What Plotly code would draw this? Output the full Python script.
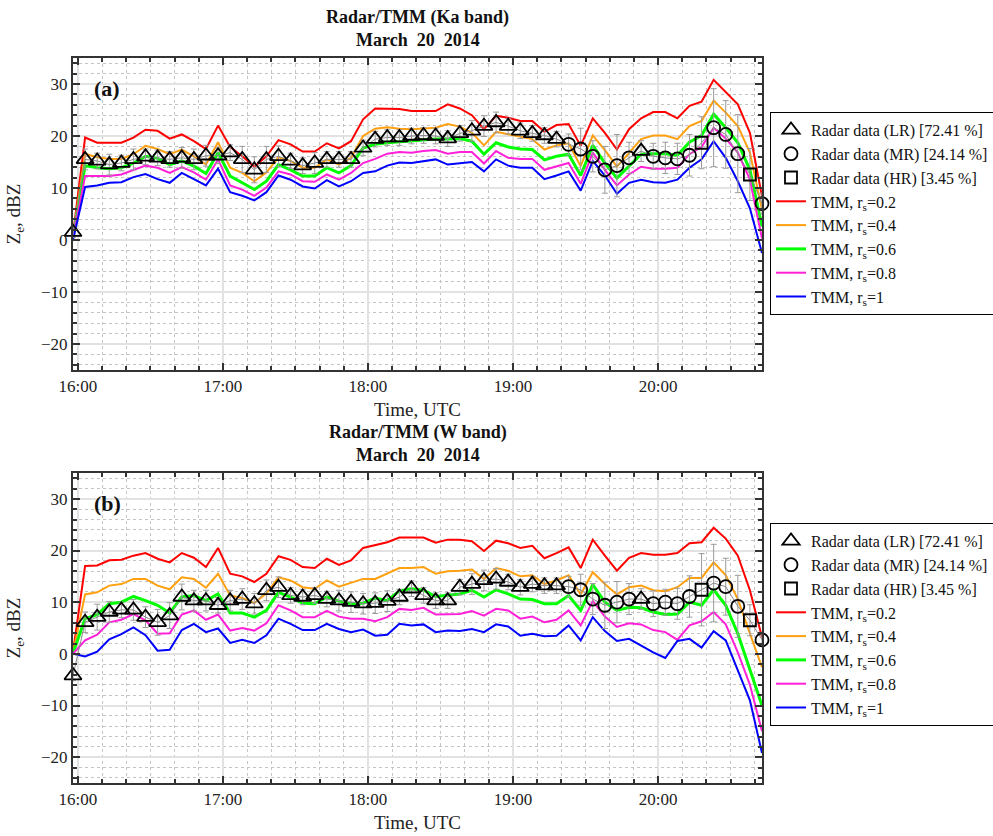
import pandas as pd
import plotly.graph_objects as go

# ---------------- data ----------------
times = pd.date_range("2014-03-20 15:58", periods=58, freq="5min")

# radar class per sample: L = LR, M = MR, H = HR
rclass = list("LLLLLLLLLLLLLLLLLLLLLLLLLLLLLLLLLLLLLLLLL" + "MMMMMMLMMMMHMMMHM")

# ---- Ka band (a) ----
ka_radar = [1.5, 15.5, 15.2, 14.5, 14.8, 15.5, 16.0, 15.8, 15.5, 15.8, 15.5, 16.2, 16.2, 16.8, 15.5, 13.5,
            15.5, 16.1, 15.2, 14.3, 14.8, 15.5, 15.5, 15.5, 17.7, 19.4, 19.7, 19.7, 20.0, 20.1, 20.0, 19.5,
            20.5, 21.0, 21.9, 22.6, 21.9, 21.0, 20.5, 20.1, 19.4, 18.4, 17.5, 16.1, 13.5, 14.3, 15.8, 17.1,
            16.1, 15.8, 15.6, 16.3, 18.7, 21.6, 20.3, 16.6, 12.6, 7.0]
ka_err = [1.0, 2.0, 1.5, 2.0, 1.5, 2.0, 1.5, 1.5, 1.5, 2.0, 2.0, 2.0, 1.5, 1.5, 2.5, 2.5, 2.5, 2.0, 1.5,
          1.5, 2.0, 1.5, 1.5, 1.5, 1.5, 1.5, 1.5, 1.5, 1.5, 1.5, 1.5, 1.5, 1.5, 2.0, 2.0, 2.0, 1.5, 1.5,
          1.5, 1.5, 1.5, 2.0, 4.0, 3.0, 4.5, 6.0, 3.0, 2.0, 2.5, 3.0, 3.0, 4.0, 5.0, 7.5, 6.5, 7.5, 5.0, 2.0]
ka_r02 = [1.0, 19.7, 18.7, 18.7, 18.7, 19.7, 21.2, 21.0, 19.5, 20.3, 19.0, 17.5, 22.0, 17.9, 16.1, 14.1,
          16.1, 19.2, 18.4, 17.0, 17.0, 18.6, 17.6, 19.0, 23.2, 25.3, 25.3, 25.2, 24.8, 24.8, 24.8, 26.1,
          25.3, 24.0, 21.3, 23.9, 23.5, 22.9, 22.9, 20.8, 22.1, 22.3, 18.1, 23.4, 20.6, 17.4, 21.3, 23.4,
          24.6, 24.6, 23.4, 25.8, 26.6, 30.8, 28.5, 26.1, 20.6, 8.4]
ka_r04 = [0.8, 16.6, 15.9, 15.6, 15.6, 16.5, 18.1, 17.5, 16.5, 17.4, 16.1, 14.5, 18.8, 13.9, 12.9, 11.3,
          13.0, 15.9, 15.2, 13.9, 13.9, 15.5, 14.5, 15.8, 20.0, 21.4, 21.7, 21.4, 21.3, 21.4, 21.6, 22.3,
          21.8, 20.6, 18.2, 20.8, 20.3, 19.9, 19.4, 17.4, 18.2, 18.6, 14.2, 20.1, 17.3, 14.1, 16.8, 19.4,
          20.1, 20.1, 19.4, 21.9, 22.9, 26.8, 24.5, 21.9, 16.8, 5.8]
ka_r06 = [0.5, 14.3, 13.9, 13.7, 13.9, 14.8, 16.1, 15.7, 14.5, 15.2, 14.2, 12.8, 16.8, 12.3, 11.0, 9.7,
          11.3, 14.5, 13.5, 12.3, 12.3, 13.9, 12.9, 14.3, 17.7, 18.4, 18.7, 18.9, 19.0, 19.2, 19.4, 19.4,
          19.5, 19.0, 16.5, 18.7, 17.9, 17.5, 17.4, 15.4, 16.1, 16.5, 12.4, 18.2, 14.8, 11.9, 14.3, 16.5,
          16.6, 16.6, 16.3, 18.8, 20.1, 24.2, 21.6, 18.7, 13.5, 2.6]
ka_r08 = [0.3, 12.3, 12.3, 12.3, 12.6, 13.5, 14.3, 13.9, 12.9, 14.0, 13.0, 11.6, 15.5, 10.5, 9.7, 8.5,
          10.1, 13.2, 12.6, 11.3, 11.2, 12.6, 11.6, 12.9, 14.8, 15.6, 16.6, 16.9, 16.8, 17.1, 17.3, 16.6,
          16.9, 16.9, 14.7, 17.1, 15.8, 15.6, 15.6, 13.5, 14.2, 14.8, 10.8, 16.8, 13.5, 10.5, 12.6, 14.1,
          13.7, 13.7, 13.9, 16.5, 17.9, 21.6, 19.5, 16.8, 11.6, 0.3]
ka_r10 = [0.0, 10.2, 10.5, 11.0, 11.1, 12.1, 12.7, 11.7, 11.0, 12.9, 11.7, 10.5, 13.7, 9.2, 8.5, 7.6,
          9.2, 12.4, 11.6, 10.3, 9.9, 11.5, 10.3, 11.3, 12.9, 13.2, 14.3, 14.9, 14.8, 15.2, 15.5, 14.5,
          14.8, 15.0, 13.2, 15.5, 14.3, 13.9, 13.9, 11.7, 12.4, 13.2, 9.5, 15.2, 12.4, 8.9, 11.0, 11.6,
          11.1, 11.0, 11.6, 13.9, 15.5, 19.0, 15.8, 11.3, 6.1, -2.5]

# ---- W band (b) ----
w_radar = [-4.2, 6.1, 7.1, 8.1, 8.5, 8.5, 7.1, 6.1, 7.4, 11.0, 10.3, 10.3, 9.4, 10.3, 10.6, 9.7,
           12.3, 12.9, 11.3, 11.0, 11.3, 10.6, 10.3, 10.0, 9.7, 9.8, 10.2, 11.0, 12.6, 11.3, 10.3, 10.3,
           12.9, 13.5, 14.2, 14.5, 13.9, 12.9, 13.5, 13.2, 13.2, 13.0, 12.4, 10.6, 9.4, 10.0, 10.6, 10.6,
           9.7, 10.0, 9.7, 11.1, 12.4, 13.7, 13.0, 9.2, 6.5, 2.7]
w_err = [1.0, 2.0, 2.5, 2.0, 1.5, 2.0, 2.0, 2.5, 2.5, 2.5, 2.0, 2.0, 1.5, 2.0, 2.0, 2.0, 2.0, 2.0, 1.5,
         1.5, 1.5, 1.5, 2.0, 2.0, 2.0, 2.0, 2.0, 1.5, 1.5, 1.5, 1.5, 1.5, 1.5, 2.0, 2.0, 2.0, 1.5, 1.5,
         1.5, 1.5, 1.5, 2.0, 3.0, 3.0, 4.5, 4.0, 3.0, 2.0, 2.5, 2.5, 3.0, 4.0, 7.0, 7.5, 5.5, 6.0, 3.0, 1.0]
w_r02 = [0.3, 17.0, 17.1, 18.1, 18.2, 19.0, 19.5, 18.4, 17.7, 19.5, 18.6, 16.8, 20.5, 15.5, 15.0, 13.9,
         15.5, 18.9, 18.2, 16.8, 16.6, 18.4, 17.2, 18.1, 20.5, 21.0, 21.6, 22.5, 22.5, 22.5, 21.5, 22.1,
         22.1, 21.8, 19.9, 21.9, 21.4, 20.5, 20.9, 18.5, 19.5, 20.6, 16.6, 22.1, 19.0, 16.1, 18.6, 19.5,
         19.2, 19.2, 19.5, 21.4, 21.6, 24.4, 22.3, 19.0, 12.3, 3.2]
w_r04 = [0.2, 11.5, 11.9, 13.2, 13.5, 14.5, 14.5, 13.2, 12.5, 14.8, 14.5, 12.8, 15.5, 11.3, 10.8, 9.8,
         11.7, 14.8, 14.2, 12.9, 12.6, 14.2, 13.0, 13.7, 14.5, 14.5, 15.5, 16.6, 16.6, 16.8, 15.5, 16.0,
         16.1, 16.3, 14.5, 16.6, 16.1, 15.0, 15.2, 13.5, 14.2, 15.2, 11.5, 15.8, 13.5, 11.5, 12.9, 13.2,
         12.3, 12.1, 12.9, 14.7, 14.7, 17.7, 15.2, 10.6, 3.9, -2.6]
w_r06 = [0.1, 6.8, 7.6, 9.7, 10.0, 11.1, 10.3, 9.4, 7.9, 11.0, 11.3, 10.3, 11.6, 7.9, 7.9, 7.1,
         8.4, 11.9, 11.0, 9.8, 9.7, 11.0, 10.2, 9.7, 9.8, 10.8, 10.3, 12.2, 12.6, 12.3, 11.1, 11.3,
         11.6, 12.3, 11.0, 12.4, 11.6, 10.6, 10.5, 9.7, 9.7, 11.3, 8.4, 13.4, 10.0, 8.4, 9.0, 8.9,
         8.1, 7.6, 7.7, 10.0, 9.4, 12.4, 9.4, 3.9, -3.2, -10.0]
w_r08 = [0.0, 2.6, 3.7, 6.1, 6.6, 7.7, 6.5, 3.9, 4.0, 7.6, 8.4, 6.6, 7.6, 4.5, 5.0, 4.5,
         5.9, 9.4, 8.4, 7.1, 7.1, 8.3, 7.2, 6.8, 6.8, 6.3, 7.1, 8.7, 8.5, 8.9, 7.6, 7.7,
         7.7, 8.3, 7.4, 8.7, 8.4, 6.8, 7.2, 6.1, 6.6, 8.4, 5.5, 10.2, 7.2, 5.2, 5.9, 5.7,
         4.6, 4.2, 2.7, 5.5, 6.3, 8.1, 5.7, 0.3, -6.0, -15.0]
w_r10 = [0.0, -0.5, 0.4, 2.8, 3.8, 5.1, 3.6, 0.6, 0.8, 4.6, 5.8, 4.2, 4.9, 2.1, 2.7, 2.1,
         3.6, 6.8, 5.8, 4.6, 4.6, 5.8, 4.8, 4.2, 4.7, 3.5, 3.7, 5.8, 5.5, 5.7, 4.2, 4.5,
         4.4, 4.8, 4.2, 5.7, 5.3, 3.5, 3.9, 3.4, 3.5, 5.5, 2.6, 7.1, 4.4, 2.5, 2.9, 1.6,
         0.3, -0.8, 2.5, 2.9, 1.2, 4.4, 2.6, -3.2, -9.0, -19.2]

legend_names = ["Radar data (LR) [72.41 %]", "Radar data (MR) [24.14 %]", "Radar data (HR) [3.45 %]"]
tmm_labels = ["TMM, r<sub>s</sub>=0.2", "TMM, r<sub>s</sub>=0.4", "TMM, r<sub>s</sub>=0.6",
              "TMM, r<sub>s</sub>=0.8", "TMM, r<sub>s</sub>=1"]
tmm_colors = ["#ff0000", "#ffa010", "#00ff00", "#ff20d8", "#0000ff"]
tmm_widths = [2, 2, 3, 2, 2]
titles = [("Radar/TMM (Ka band)", "March\u00a0\u00a020\u00a0\u00a02014"),
          ("Radar/TMM (W band)", "March\u00a0\u00a020\u00a0\u00a02014")]
panel_tags = ["(a)", "(b)"]

FONT = "Liberation Serif"
W, H = 993, 836

fig = go.Figure()

panels = [
    dict(radar=ka_radar, err=ka_err, tmm=[ka_r02, ka_r04, ka_r06, ka_r08, ka_r10], xa="x", ya="y", leg="legend"),
    dict(radar=w_radar, err=w_err, tmm=[w_r02, w_r04, w_r06, w_r08, w_r10], xa="x2", ya="y2", leg="legend2"),
]

sym = {"L": "triangle-up-open", "M": "circle-open", "H": "square-open"}
msize = {"L": 15, "M": 13, "H": 12}

for p in panels:
    for vals, lab, col, lw in zip(p["tmm"], tmm_labels, tmm_colors, tmm_widths):
        fig.add_trace(go.Scatter(x=times, y=vals, mode="lines", name=lab,
                                 line=dict(color=col, width=lw),
                                 xaxis=p["xa"], yaxis=p["ya"], legend=p["leg"], legendrank=10))
    fig.add_trace(go.Scatter(x=times, y=p["radar"], mode="lines",
                             line=dict(color="#8a8a8a", width=1),
                             error_y=dict(type="data", array=p["err"], visible=True,
                                          color="#9a9a9a", thickness=1, width=3),
                             showlegend=False, xaxis=p["xa"], yaxis=p["ya"], legend=p["leg"]))
    for c, nm in zip("LMH", legend_names):
        yv = [v if k == c else None for v, k in zip(p["radar"], rclass)]
        fig.add_trace(go.Scatter(x=times, y=yv, mode="markers", name=nm,
                                 marker=dict(symbol=sym[c], size=msize[c], color="black",
                                             line=dict(color="black", width=1.8)),
                                 cliponaxis=False,
                                 xaxis=p["xa"], yaxis=p["ya"], legend=p["leg"], legendrank=1))

x0, x1 = 73, 762
doms = [(58, 370), (473, 783)]

def xax(anchor):
    return dict(anchor=anchor, domain=[x0 / W, x1 / W], type="date", automargin=False,
                range=[times[0], times[-1]], tick0="2014-03-20 16:00", dtick=3600000,
                tickformat="%H:%M", ticks="inside", ticklen=7, tickwidth=1.5, tickcolor="#333",
                showline=True, linecolor="#333", linewidth=2, mirror="ticks",
                showgrid=True, gridcolor="#e2e2e2", gridwidth=1.5, zeroline=False,
                tickfont=dict(family=FONT, size=17, color="#222"),
                title=dict(text="Time, UTC", font=dict(family=FONT, size=19, color="#222"), standoff=7),
                minor=dict(dtick=600000, tick0="2014-03-20 16:00", ticks="inside", ticklen=4,
                           tickcolor="#333", showgrid=True, griddash="dot", gridcolor="#c4c4c4",
                           gridwidth=1))

def yax(anchor, dom):
    return dict(anchor=anchor, domain=[1 - dom[1] / H, 1 - dom[0] / H], range=[-25, 35],
                automargin=False,
                tick0=0, dtick=10, ticks="inside", ticklen=7, tickwidth=1.5, tickcolor="#333",
                showline=True, linecolor="#333", linewidth=2, mirror="ticks",
                showgrid=True, gridcolor="#e2e2e2", gridwidth=1.5, zeroline=False,
                tickfont=dict(family=FONT, size=17, color="#222"),
                title=dict(text="Z<sub>e</sub>, dBZ", font=dict(family=FONT, size=19, color="#222"),
                           standoff=15),
                minor=dict(dtick=2, ticks="inside", ticklen=4, tickcolor="#333", showgrid=True,
                           griddash="dot", gridcolor="#c4c4c4", gridwidth=1))

leg_common = dict(bgcolor="white", bordercolor="black", borderwidth=1,
                  font=dict(family=FONT, size=16, color="#111"), itemwidth=30,
                  tracegroupgap=0, xanchor="left", yanchor="top", traceorder="normal")

annotations = []
for (t1, t2), dom, tag in zip(titles, doms, panel_tags):
    cx = (x0 + x1) / 2 / W
    annotations.append(dict(x=cx, y=1 - (dom[0] - 41) / H, xref="paper", yref="paper",
                            text="<b>%s</b>" % t1, showarrow=False, xanchor="center", yanchor="middle",
                            font=dict(family=FONT, size=18, color="#111")))
    annotations.append(dict(x=cx, y=1 - (dom[0] - 18) / H, xref="paper", yref="paper",
                            text="<b>%s</b>" % t2, showarrow=False, xanchor="center", yanchor="middle",
                            font=dict(family=FONT, size=18, color="#111")))
    annotations.append(dict(x=(x0 + 34) / W, y=1 - (dom[0] + 30) / H, xref="paper", yref="paper",
                            text="<b>%s</b>" % tag, showarrow=False, xanchor="center", yanchor="middle",
                            font=dict(family=FONT, size=22, color="#111")))

fig.update_layout(
    width=W, height=H, margin=dict(l=0, r=0, t=0, b=0, autoexpand=False),
    paper_bgcolor="white", plot_bgcolor="white",
    xaxis=xax("y"), yaxis=yax("x", doms[0]),
    xaxis2=xax("y2"), yaxis2=yax("x2", doms[1]),
    legend=dict(x=770 / W, y=1 - 112 / H, **leg_common),
    legend2=dict(x=770 / W, y=1 - 523 / H, **leg_common),
    annotations=annotations,
    font=dict(family=FONT),
)

fig.write_html("out.html")
